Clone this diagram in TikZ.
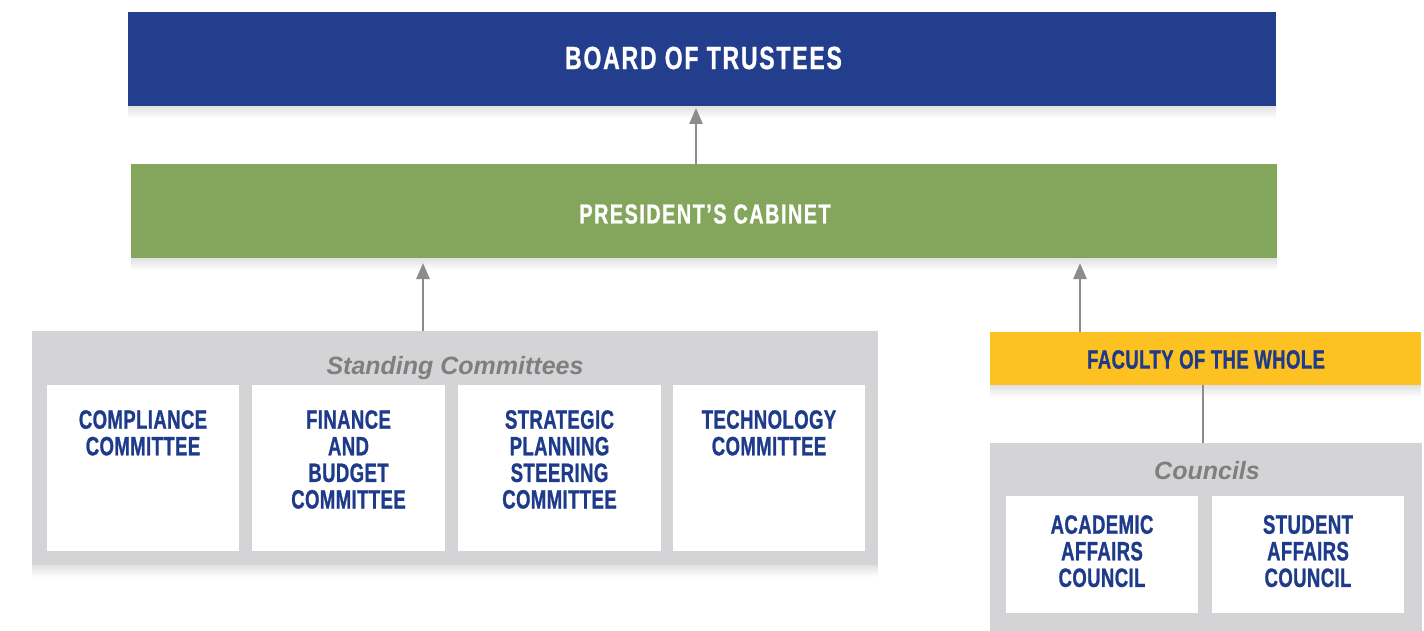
\documentclass[tikz,border=0pt]{standalone}
\usepackage{fontspec}
\setmainfont{Liberation Sans}
\newfontface\headfont{Liberation Sans Bold}[FakeStretch=0.72,LetterSpace=5.5,FakeBold=0.8]
\newfontface\blkfont{Liberation Sans Bold}[FakeStretch=0.70,LetterSpace=1.5,FakeBold=0.9]
\newfontface\ttlfont{Liberation Sans Bold Italic}
\usetikzlibrary{arrows.meta,shadows,calc}
\definecolor{boardblue}{HTML}{243E8E}
\definecolor{cabgreen}{HTML}{83A65C}
\definecolor{facyellow}{HTML}{FDC221}
\definecolor{panelgray}{HTML}{D4D4D6}
\definecolor{txtblue}{HTML}{1E3A8A}
\definecolor{titlegray}{HTML}{7F7F7F}
\definecolor{arrgray}{HTML}{8C8C8C}
\tikzset{
  softshadow/.style={
    general shadow={fill=black,opacity=.018,shadow yshift=-2pt},
    general shadow={fill=black,opacity=.018,shadow yshift=-4pt},
    general shadow={fill=black,opacity=.018,shadow yshift=-6pt},
    general shadow={fill=black,opacity=.018,shadow yshift=-8pt},
    general shadow={fill=black,opacity=.018,shadow yshift=-10pt},
    general shadow={fill=black,opacity=.015,shadow yshift=-12pt}},
  box/.style={rectangle,inner sep=0pt,outer sep=0pt,draw=none},
  headtxt/.style={text=white,inner sep=0pt},
  cmtbox/.style={box,fill=white},
  cmttxt/.style={text=txtblue,inner sep=0pt,align=center,anchor=north,
    font=\blkfont\fontsize{26.5}{26.6}\selectfont},
  paneltitle/.style={text=titlegray,inner sep=0pt,anchor=base,
    font=\ttlfont\fontsize{25}{25}\selectfont},
  arr/.style={draw=arrgray,line width=2.8pt,-{Triangle[length=16pt,width=13pt]}},
  plainline/.style={draw=arrgray,line width=2.8pt}
}
\begin{document}
\begin{tikzpicture}[x=1pt,y=-1pt]
\useasboundingbox (0,0) rectangle (1424,631);
% top levels
\node[box,fill=boardblue,softshadow,minimum width=1148pt,minimum height=94pt] (board) at (702,59) {};
\node[headtxt,font=\headfont\fontsize{32}{32}\selectfont] (boardT) at (703.5,58) {BOARD OF TRUSTEES};
\node[box,fill=cabgreen,softshadow,minimum width=1146pt,minimum height=94pt] (cab) at (704,211) {};
\node[headtxt,font=\headfont\fontsize{27.5}{27.5}\selectfont] (cabT) at (705,214) {PRESIDENT’S CABINET};
% standing committees
\node[box,fill=panelgray,softshadow,minimum width=846pt,minimum height=234pt] (std) at (455,448) {};
\node[paneltitle] (stdT) at (455,374) {Standing Committees};
\node[cmtbox,minimum width=192pt,minimum height=166pt] (c1) at (143,468) {};
\node[cmtbox,minimum width=193pt,minimum height=166pt] (c2) at (348.5,468) {};
\node[cmtbox,minimum width=203pt,minimum height=166pt] (c3) at (559.5,468) {};
\node[cmtbox,minimum width=192pt,minimum height=166pt] (c4) at (769,468) {};
\node[cmttxt] (c1T) at ($(c1.north)+(0,25)$) {COMPLIANCE\\COMMITTEE};
\node[cmttxt] (c2T) at ($(c2.north)+(0,25)$) {FINANCE\\AND\\BUDGET\\COMMITTEE};
\node[cmttxt] (c3T) at ($(c3.north)+(0,25)$) {STRATEGIC\\PLANNING\\STEERING\\COMMITTEE};
\node[cmttxt] (c4T) at ($(c4.north)+(0,25)$) {TECHNOLOGY\\COMMITTEE};
% faculty and councils
\node[box,fill=facyellow,softshadow,minimum width=431pt,minimum height=53pt] (fac) at (1205.5,358.5) {};
\node[inner sep=0pt,text=txtblue,font=\blkfont\fontsize{26.5}{26.5}\selectfont] (facT) at (1206,359.5) {FACULTY OF THE WHOLE};
\node[box,fill=panelgray,minimum width=432pt,minimum height=188pt] (cou) at (1206,537) {};
\node[paneltitle] (couT) at (1207,479) {Councils};
\node[cmtbox,minimum width=192pt,minimum height=117pt] (k1) at (1102,554.5) {};
\node[cmtbox,minimum width=192pt,minimum height=117pt] (k2) at (1308,554.5) {};
\node[cmttxt] (k1T) at ($(k1.north)+(0,19)$) {ACADEMIC\\AFFAIRS\\COUNCIL};
\node[cmttxt] (k2T) at ($(k2.north)+(0,19)$) {STUDENT\\AFFAIRS\\COUNCIL};
% connectors
\coordinate (xa) at (696,0);
\coordinate (xb) at (423,0);
\coordinate (xc) at (1080,0);
\coordinate (xd) at (1203,0);
\draw[arr,shorten >=2pt] (cab.north -| xa) -- (board.south -| xa);
\draw[arr,shorten >=5pt] (std.north -| xb) -- (cab.south -| xb);
\draw[arr,shorten >=5pt] (fac.north -| xc) -- (cab.south -| xc);
\draw[plainline] (fac.south -| xd) -- (cou.north -| xd);
\end{tikzpicture}
\end{document}
